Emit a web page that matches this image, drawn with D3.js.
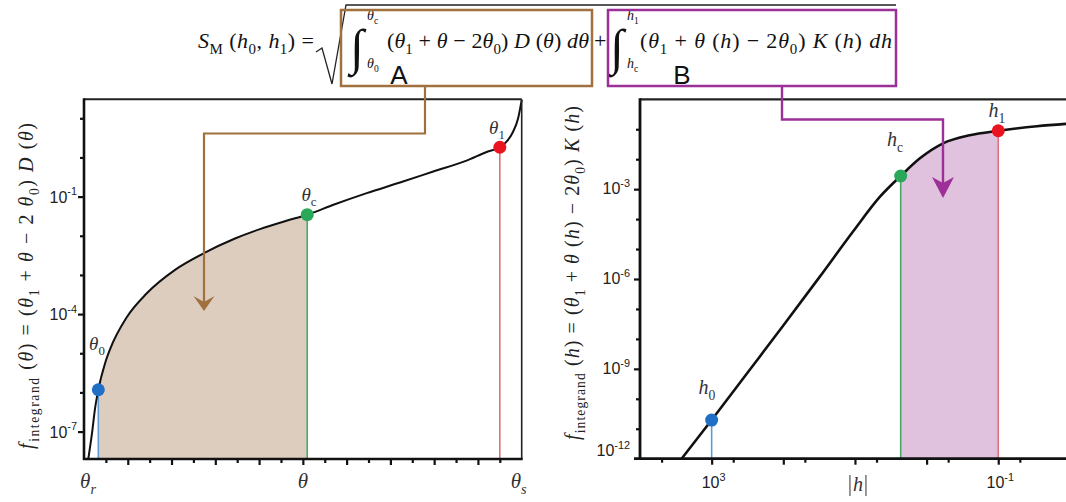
<!DOCTYPE html>
<html>
<head>
<meta charset="utf-8">
<script src="https://cdn.jsdelivr.net/npm/d3@7"></script>
<style>
  body { margin: 0; background: #fff; }
  svg { display: block; }
  text { white-space: pre; }
</style>
</head>
<body>
<div id="chart"></div>
<script>
// ---- left panel: integrand against theta (theta_r = 0 ... theta_s = 1) ----
const thetaVals  = [0.0098, 0.0183, 0.0251, 0.0327, 0.048, 0.0594, 0.0976, 0.1435, 0.208, 0.274, 0.345, 0.402, 0.459, 0.51,
                    0.57, 0.646, 0.722, 0.798, 0.874, 0.92, 0.95, 0.966, 0.98, 0.992, 1.0];
const fThetaVals = [2.0e-8, 9.1e-8, 3.8e-7, 1.17e-6, 5.5e-6, 1.26e-5, 8.3e-5, 3.4e-4, 1.35e-3, 3.6e-3, 8.5e-3, 1.48e-2, 2.36e-2, 3.45e-2,
                    6.2e-2, 0.123, 0.229, 0.436, 0.83, 1.38, 1.82, 2.57, 4.47, 10.2, 29.5];
const thetaMarkIds = ["0", "c", "1"];
const thetaMarkX   = [0.0327, 0.51, 0.95];
const thetaMarkF   = [1.17e-6, 3.45e-2, 1.82];
const thetaTickPos  = [0, 0.5, 1];
const thetaTickSubs = ["r", "", "s"];
const thetaMajor = [0.1, 0.2, 0.3, 0.4, 0.5, 0.6, 0.7, 0.8, 0.9];
const thetaMinor = [0.05, 0.15, 0.25, 0.35, 0.45, 0.55, 0.65, 0.75, 0.85, 0.95];
const leftYMajor = [1e-7, 1e-4, 1e-1];
const leftYExp   = ["-7", "-4", "-1"];
const leftYMinor = [1e-6, 1e-5, 1e-3, 1e-2, 1e0, 1e1];

// ---- right panel: integrand against |h| (axis runs from large to small |h|) ----
const hVals  = [2630, 1000, 316, 100, 30.9, 10.5, 4.47, 2.30, 1.24, 0.589, 0.251, 0.1, 0.0288, 0.0112];
const fHVals = [1e-12, 1.95e-11, 7.4e-10, 2.8e-8, 1.2e-6, 4.0e-5, 5.6e-4, 2.75e-3, 1.07e-2, 3.39e-2, 6.3e-2, 8.9e-2, 0.126, 0.151];
const hMarkIds = ["0", "c", "1"];
const hMarkX   = [1000, 2.30, 0.1];
const hMarkF   = [1.95e-11, 2.75e-3, 8.9e-2];
const hMajor = [1e3, 1e2, 1e1, 1e0, 1e-1];
const hMinor = [5e3, 5e2, 5e1, 5, 0.5, 0.05];
const hLabelVals = [1e3, 1e-1];
const hLabelExp  = ["3", "-1"];
const rightYMajor = [1e-12, 1e-9, 1e-6, 1e-3];
const rightYExp   = ["-12", "-9", "-6", "-3"];
const rightYMinor = [1e-11, 1e-10, 1e-8, 1e-7, 1e-5, 1e-4, 1e-2, 1e-1];

const markColors = ["#1f6fc6", "#2aa85a", "#ea1420"];
const dropColors = ["#5a9bd8", "#46ab68", "#e0707c"];
const brown = "#a0703f";
const purple = "#9c2f98";
const SERIF = '"Liberation Serif", "DejaVu Serif", serif';
const SANS = '"Liberation Sans", Arial, sans-serif';

const width = 1066, height = 502;
const svg = d3.select("#chart").append("svg")
  .attr("width", width)
  .attr("height", height);

// rich text with italic / sub / sup pieces
function rich(t, parts, size) {
  let cur = 0;
  parts.forEach(([s, k]) => {
    const isSub = k === "sub" || k === "subi";
    const small = isSub || k === "sup";
    const off = isSub ? size * 0.28 : k === "sup" ? -size * 0.45 : 0;
    t.append("tspan")
      .attr("dy", off - cur)
      .attr("font-size", small ? size * 0.68 : size)
      .attr("font-style", (k === "i" || k === "subi") ? "italic" : "normal")
      .text(s);
    cur = off;
  });
  return t;
}

// ================= LEFT PANEL =================
const xL = d3.scaleLinear().domain([0, 1]).range([84, 521.7]);
const yL = d3.scaleLog().domain([Math.pow(10, -7.7), Math.pow(10, 1.485)]).range([459, 99.3]);
const left = svg.append("g");
const dataL = thetaVals.map((v, i) => [v, fThetaVals[i]]);

const areaL = d3.area()
  .x(d => xL(d[0])).y0(yL.range()[0]).y1(d => yL(d[1]))
  .curve(d3.curveMonotoneX);
left.append("path")
  .datum(dataL.filter(d => d[0] >= thetaMarkX[0] && d[0] <= thetaMarkX[1]))
  .attr("fill", "#ddcdbf")
  .attr("d", areaL);

// drop lines
thetaMarkX.forEach((v, i) => {
  left.append("line")
    .attr("x1", xL(v)).attr("x2", xL(v))
    .attr("y1", yL(thetaMarkF[i])).attr("y2", yL.range()[0])
    .attr("stroke", dropColors[i]).attr("stroke-width", 1.6);
});

const lineL = d3.line().x(d => xL(d[0])).y(d => yL(d[1])).curve(d3.curveMonotoneX);
left.append("path")
  .datum(dataL)
  .attr("fill", "none")
  .attr("stroke", "#111")
  .attr("stroke-width", 2)
  .attr("d", lineL);

// frame
left.append("line").attr("x1", xL(0)).attr("x2", xL(1)).attr("y1", 99.3).attr("y2", 99.3)
  .attr("stroke", "#222").attr("stroke-width", 2);
left.append("line").attr("x1", xL(1)).attr("x2", xL(1)).attr("y1", 99.3).attr("y2", 459)
  .attr("stroke", "#222").attr("stroke-width", 1.6);

function styleAxis(g) {
  g.select(".domain").remove();
  g.selectAll("line").attr("stroke", "#111").attr("stroke-width", 2.2);
}
left.append("g").attr("transform", "translate(0,459)")
  .call(d3.axisBottom(xL).tickValues(thetaMajor).tickSize(6).tickFormat("")).call(styleAxis);
left.append("g").attr("transform", "translate(0,459)")
  .call(d3.axisBottom(xL).tickValues(thetaMinor).tickSize(4).tickFormat("")).call(styleAxis);
left.append("g").attr("transform", "translate(84,0)")
  .call(d3.axisLeft(yL).tickValues(leftYMajor).tickSize(6).tickFormat("")).call(styleAxis);
left.append("g").attr("transform", "translate(84,0)")
  .call(d3.axisLeft(yL).tickValues(leftYMinor).tickSize(4).tickFormat("")).call(styleAxis);
left.append("line").attr("x1", 84).attr("x2", 84).attr("y1", 98.3).attr("y2", 460)
  .attr("stroke", "#111").attr("stroke-width", 2.6);
left.append("line").attr("x1", 83).attr("x2", xL(1) + 1).attr("y1", 459).attr("y2", 459)
  .attr("stroke", "#111").attr("stroke-width", 2.6);

// y tick labels
leftYMajor.forEach((v, i) => {
  rich(left.append("text")
    .attr("x", 77).attr("y", yL(v) + 6)
    .attr("text-anchor", "end")
    .attr("font-family", SANS).attr("fill", "#222"),
    [["10", "r"], [leftYExp[i], "sup"]], 16);
});
// x tick labels
thetaTickPos.forEach((v, i) => {
  const t = left.append("text")
    .attr("x", xL(v) + (i === 0 ? 4 : i === 2 ? -3 : 0)).attr("y", 488)
    .attr("text-anchor", "middle")
    .attr("font-family", SERIF).attr("fill", "#333");
  const parts = [["θ", "i"]];
  if (thetaTickSubs[i]) parts.push([thetaTickSubs[i], "subi"]);
  rich(t, parts, 21);
});

// axis title
rich(left.append("text")
  .attr("transform", "translate(33,286) rotate(-90)")
  .attr("text-anchor", "middle")
  .attr("textLength", 326)
  .attr("font-family", SERIF).attr("fill", "#222"),
  [["f", "i"], ["integrand", "sub"], [" (", "r"], ["θ", "i"], [") = (", "r"], ["θ", "i"], ["1", "sub"],
   [" + ", "r"], ["θ", "i"], [" − 2 ", "r"], ["θ", "i"], ["0", "sub"], [") ", "r"], ["D", "i"],
   [" (", "r"], ["θ", "i"], [")", "r"]], 20);

// brown arrow (A)
left.append("path")
  .attr("d", "M425,86 V133.5 H204 V304")
  .attr("fill", "none").attr("stroke", brown).attr("stroke-width", 2.2);
left.append("path")
  .attr("d", "M204,311 L193.5,296 L204,302 L214.5,296 Z")
  .attr("fill", brown);

// marks
thetaMarkX.forEach((v, i) => {
  left.append("circle")
    .attr("cx", xL(v)).attr("cy", yL(thetaMarkF[i])).attr("r", 6.5)
    .attr("fill", markColors[i]);
});
const thetaLabelPos = [[97, 350], [309, 201], [497, 134]];
thetaMarkIds.forEach((id, i) => {
  rich(left.append("text")
    .attr("x", thetaLabelPos[i][0]).attr("y", thetaLabelPos[i][1])
    .attr("text-anchor", "middle")
    .attr("font-family", SERIF).attr("fill", "#333"),
    [["θ", "i"], [id, "sub"]], 19);
});

// ================= RIGHT PANEL =================
const xR = d3.scaleLog().domain([1e4, 1e-2]).range([640, 1069.9]);
const yR = d3.scaleLog().domain([1e-12, 1e0]).range([458.7, 99.3]);
const right = svg.append("g");
const dataR = hVals.map((v, i) => [v, fHVals[i]]);

const areaR = d3.area()
  .x(d => xR(d[0])).y0(yR.range()[0]).y1(d => yR(d[1]))
  .curve(d3.curveMonotoneX);
right.append("path")
  .datum(dataR.filter(d => d[0] <= hMarkX[1] && d[0] >= hMarkX[2]))
  .attr("fill", "#e1c2de")
  .attr("d", areaR);

hMarkX.forEach((v, i) => {
  right.append("line")
    .attr("x1", xR(v)).attr("x2", xR(v))
    .attr("y1", yR(hMarkF[i])).attr("y2", yR.range()[0])
    .attr("stroke", dropColors[i]).attr("stroke-width", 1.6);
});

const lineR = d3.line().x(d => xR(d[0])).y(d => yR(d[1])).curve(d3.curveMonotoneX);
right.append("path")
  .datum(dataR)
  .attr("fill", "none")
  .attr("stroke", "#111")
  .attr("stroke-width", 2.6)
  .attr("d", lineR);

right.append("line").attr("x1", 640).attr("x2", width).attr("y1", 99.3).attr("y2", 99.3)
  .attr("stroke", "#222").attr("stroke-width", 2.2);
right.append("g").attr("transform", "translate(0,458.7)")
  .call(d3.axisBottom(xR).tickValues(hMajor).tickSize(6).tickFormat("")).call(styleAxis);
right.append("g").attr("transform", "translate(0,458.7)")
  .call(d3.axisBottom(xR).tickValues(hMinor).tickSize(4).tickFormat("")).call(styleAxis);
right.append("g").attr("transform", "translate(640,0)")
  .call(d3.axisLeft(yR).tickValues(rightYMajor.slice(1)).tickSize(6).tickFormat("")).call(styleAxis);
right.append("g").attr("transform", "translate(640,0)")
  .call(d3.axisLeft(yR).tickValues(rightYMinor).tickSize(4).tickFormat("")).call(styleAxis);
right.append("line").attr("x1", 640).attr("x2", 640).attr("y1", 98.3).attr("y2", 460)
  .attr("stroke", "#111").attr("stroke-width", 2.8);
right.append("line").attr("x1", 634).attr("x2", width).attr("y1", 458.7).attr("y2", 458.7)
  .attr("stroke", "#111").attr("stroke-width", 2.8);

rightYMajor.forEach((v, i) => {
  rich(right.append("text")
    .attr("x", 630).attr("y", yR(v) + (i === 0 ? -3 : 5))
    .attr("text-anchor", "end")
    .attr("font-family", SANS).attr("fill", "#222"),
    [["10", "r"], [rightYExp[i], "sup"]], 16);
});
hLabelVals.forEach((v, i) => {
  rich(right.append("text")
    .attr("x", xR(v) + 2).attr("y", 488)
    .attr("text-anchor", "middle")
    .attr("font-family", SANS).attr("fill", "#222"),
    [["10", "r"], [hLabelExp[i], "sup"]], 16);
});
// |h| axis name: bars drawn as short rules, h as italic text
const hName = right.append("g").attr("transform", `translate(${xR(10) + 3},0)`);
hName.append("text")
  .attr("x", 0).attr("y", 491)
  .attr("text-anchor", "middle")
  .attr("font-family", SERIF).attr("font-style", "italic").attr("font-size", 20)
  .attr("fill", "#333").text("h");
[-8, 8].forEach(dx => {
  hName.append("line")
    .attr("x1", dx).attr("x2", dx).attr("y1", 475).attr("y2", 496)
    .attr("stroke", "#444").attr("stroke-width", 1.1);
});

rich(right.append("text")
  .attr("transform", "translate(579,273) rotate(-90)")
  .attr("text-anchor", "middle")
  .attr("textLength", 334)
  .attr("font-family", SERIF).attr("fill", "#222"),
  [["f", "i"], ["integrand", "sub"], [" (", "r"], ["h", "i"], [") = (", "r"], ["θ", "i"], ["1", "sub"],
   [" + ", "r"], ["θ", "i"], [" (", "r"], ["h", "i"], [") − 2", "r"], ["θ", "i"], ["0", "sub"],
   [") ", "r"], ["K", "i"], [" (", "r"], ["h", "i"], [")", "r"]], 20);

// purple arrow (B)
right.append("path")
  .attr("d", "M782,86 V119.5 H943 V186")
  .attr("fill", "none").attr("stroke", purple).attr("stroke-width", 2.4);
right.append("path")
  .attr("d", "M943,198 L932,177 L943,183 L954,177 Z")
  .attr("fill", purple);

hMarkX.forEach((v, i) => {
  right.append("circle")
    .attr("cx", xR(v)).attr("cy", yR(hMarkF[i])).attr("r", 6.5)
    .attr("fill", markColors[i]);
});
const hLabelPos = [[707, 394], [895, 146], [997, 117]];
hMarkIds.forEach((id, i) => {
  rich(right.append("text")
    .attr("x", hLabelPos[i][0]).attr("y", hLabelPos[i][1])
    .attr("text-anchor", "middle")
    .attr("font-family", SERIF).attr("fill", "#333"),
    [["h", "i"], [id, "sub"]], 20);
});

// ================= FORMULA =================
const fm = svg.append("g").attr("font-family", SERIF).attr("fill", "#111");
rich(fm.append("text").attr("x", 198).attr("y", 48).attr("textLength", 116),
  [["S", "i"], ["M", "sub"], [" (", "r"], ["h", "i"], ["0", "sub"], [", ", "r"], ["h", "i"], ["1", "sub"], [") =", "r"]], 22);
fm.append("path")
  .attr("d", "M316,52 L322,48 L332,84 L346,5 L896,5")
  .attr("fill", "none").attr("stroke", "#222").attr("stroke-width", 1.3);

function integral(x, upper, lower) {
  fm.append("text").attr("x", x).attr("y", 64).attr("font-size", 50)
    .attr("font-style", "italic").attr("font-weight", 300).text("∫");
  rich(fm.append("text").attr("x", x + 17).attr("y", 20), upper, 14);
  rich(fm.append("text").attr("x", x + 17).attr("y", 68), lower, 14);
}
integral(350, [["θ", "i"], ["c", "sub"]], [["θ", "i"], ["0", "sub"]]);
integral(610, [["h", "i"], ["1", "sub"]], [["h", "i"], ["c", "sub"]]);

rich(fm.append("text").attr("x", 387).attr("y", 48).attr("textLength", 202),
  [["(", "r"], ["θ", "i"], ["1", "sub"], [" + ", "r"], ["θ", "i"], [" − 2", "r"], ["θ", "i"], ["0", "sub"],
   [") ", "r"], ["D", "i"], [" (", "r"], ["θ", "i"], [") ", "r"], ["d", "i"], ["θ", "i"]], 22);
fm.append("text").attr("x", 594).attr("y", 48).attr("font-size", 22).text("+");
rich(fm.append("text").attr("x", 640).attr("y", 48).attr("textLength", 252),
  [["(", "r"], ["θ", "i"], ["1", "sub"], [" + ", "r"], ["θ", "i"], [" (", "r"], ["h", "i"], [") − 2", "r"],
   ["θ", "i"], ["0", "sub"], [") ", "r"], ["K", "i"], [" (", "r"], ["h", "i"], [") ", "r"], ["d", "i"], ["h", "i"]], 22);

// boxes
svg.append("rect").attr("x", 341).attr("y", 10).attr("width", 251).attr("height", 76)
  .attr("fill", "none").attr("stroke", brown).attr("stroke-width", 2.5);
svg.append("rect").attr("x", 608).attr("y", 10).attr("width", 288).attr("height", 76)
  .attr("fill", "none").attr("stroke", purple).attr("stroke-width", 2.5);
svg.append("text").attr("x", 399).attr("y", 84).attr("text-anchor", "middle")
  .attr("font-family", SANS).attr("font-size", 26).attr("fill", "#111").text("A");
svg.append("text").attr("x", 682).attr("y", 84).attr("text-anchor", "middle")
  .attr("font-family", SANS).attr("font-size", 26).attr("fill", "#111").text("B");
</script>
</body>
</html>
